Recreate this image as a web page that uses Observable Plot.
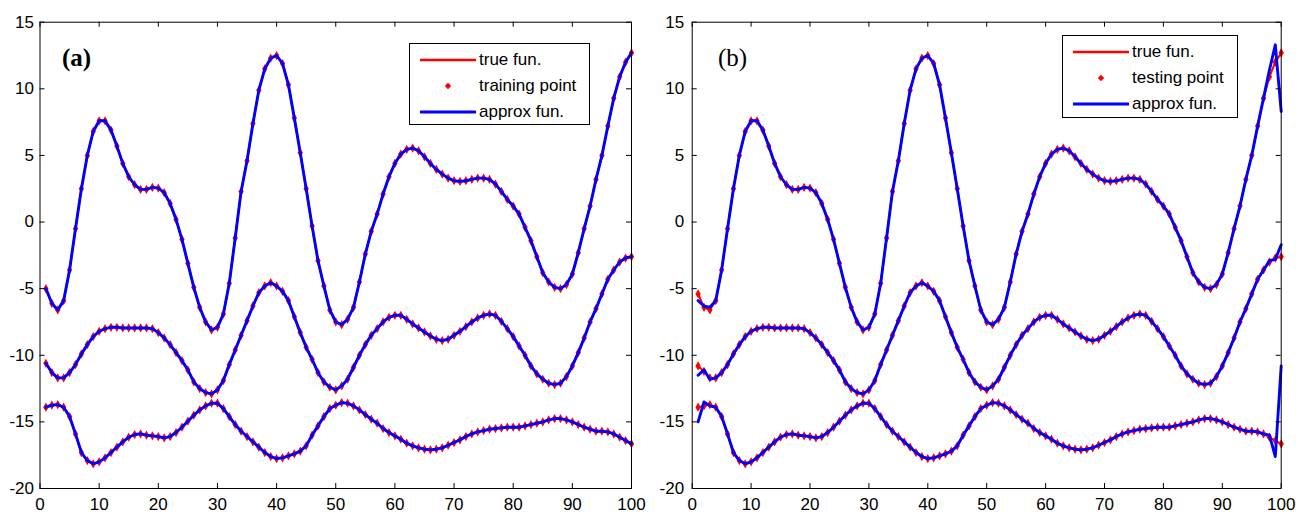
<!DOCTYPE html>
<html>
<head>
<meta charset="utf-8">
<script src="https://cdn.jsdelivr.net/npm/d3@7"></script>
<script src="https://cdn.jsdelivr.net/npm/@observablehq/plot@0.6"></script>
<style>
  html, body { margin: 0; padding: 0; background: #fff; }
  #wrap { position: relative; width: 1296px; height: 514px; overflow: hidden; font-family: Arial, "Liberation Sans", sans-serif; }
  .panel { position: absolute; top: 0; }
  .tag { position: absolute; font-family: "Liberation Serif", "Times New Roman", serif; font-size: 25px; line-height: 1; color: #000; }
  .legend { position: absolute; border: 1px solid #000; background: #fff; box-sizing: border-box; }
  .row { position: absolute; left: 0; height: 20px; width: 100%; }
  .row svg { position: absolute; left: 0; top: 0; }
  .row span { position: absolute; left: 69px; top: 0; font-size: 17px; line-height: 20px; color: #000; white-space: nowrap; }
</style>
</head>
<body>
<div id="wrap"></div>
<script>
// ---------- data ----------
const xIndex = d3.range(1, 101); // sample positions 1..100

const curveTop = [
  -5.0, -6.1, -6.6, -5.9, -3.6, -0.5, 2.5, 5.0, 6.8, 7.6,
  7.6, 6.9, 5.7, 4.4, 3.4, 2.8, 2.45, 2.45, 2.6, 2.55,
  2.2, 1.4, 0.2, -1.3, -3.1, -4.9, -6.4, -7.5, -8.1, -7.9,
  -6.9, -4.6, -1.2, 2.3, 4.6, 7.4, 9.9, 11.5, 12.3, 12.5,
  11.9, 10.3, 7.8, 5.2, 2.5, -0.3, -2.9, -4.8, -6.6, -7.5,
  -7.7, -7.3, -6.4, -4.5, -2.4, -0.7, 0.6, 2.1, 3.4, 4.4,
  5.1, 5.45, 5.55, 5.35, 4.9, 4.4, 3.95, 3.6, 3.3, 3.1,
  3.05, 3.1, 3.2, 3.3, 3.3, 3.2, 2.85, 2.3, 1.7, 1.2,
  0.6, -0.4, -1.4, -2.6, -3.8, -4.5, -4.9, -5.0, -4.7, -3.9,
  -2.3, -0.5, 1.2, 3.2, 5.0, 7.2, 9.3, 10.9, 12.0, 12.7
];
const curveMid = [
  -10.6, -11.3, -11.7, -11.7, -11.3, -10.7, -9.9, -9.2, -8.6, -8.2,
  -8.0, -7.9, -7.9, -7.95, -7.95, -7.95, -7.95, -7.95, -8.0, -8.3,
  -8.7, -9.2, -9.8, -10.4, -11.1, -12.0, -12.5, -12.8, -12.9, -12.6,
  -11.9, -10.7, -9.6, -8.5, -7.4, -6.3, -5.3, -4.8, -4.55, -4.8,
  -5.2, -5.9, -7.1, -8.3, -9.4, -10.3, -11.3, -12.0, -12.4, -12.6,
  -12.3, -11.8, -10.9, -10.0, -9.2, -8.5, -8.0, -7.5, -7.15, -7.0,
  -7.0, -7.3, -7.65, -7.95, -8.25, -8.55, -8.8, -8.9, -8.8, -8.5,
  -8.2, -7.85, -7.5, -7.2, -7.0, -6.9, -7.0, -7.45, -8.0, -8.6,
  -9.3, -10.0, -10.8, -11.4, -11.8, -12.1, -12.2, -12.1, -11.6, -10.8,
  -9.8, -8.7, -7.5, -6.5, -5.4, -4.3, -3.6, -3.0, -2.7, -2.6
];
const curveLow = [
  -13.9, -13.75, -13.7, -13.9, -14.6, -15.9, -17.3, -17.9, -18.15, -18.0,
  -17.7, -17.3, -16.9, -16.5, -16.15, -15.95, -15.9, -16.0, -16.05, -16.1,
  -16.2, -16.1, -15.8, -15.4, -14.95, -14.5, -14.1, -13.8, -13.6, -13.6,
  -14.0, -14.6, -15.2, -15.7, -16.1, -16.5, -16.9, -17.3, -17.6, -17.75,
  -17.7, -17.55, -17.4, -17.2, -16.8, -16.0, -15.3, -14.6, -14.0, -13.75,
  -13.55, -13.6, -13.8, -14.1, -14.45, -14.8, -15.1, -15.5, -15.8, -16.05,
  -16.3, -16.6, -16.8, -16.95, -17.05, -17.1, -17.05, -16.95, -16.75, -16.55,
  -16.35, -16.1, -15.9, -15.75, -15.65, -15.55, -15.5, -15.45, -15.4, -15.4,
  -15.4, -15.3, -15.2, -15.1, -15.0, -14.85, -14.75, -14.75, -14.85, -15.0,
  -15.2, -15.4, -15.55, -15.7, -15.7, -15.75, -15.9, -16.15, -16.4, -16.65
];

// panel (b): approximation deviates near both ends
const edgeX = [1, 2, 3, 98, 99, 100];
const approxBTopEdge = [-5.9, -6.3, -6.4, 11.4, 13.3, 8.3];
const approxBMidEdge = [-11.5, -11.1, -11.8, -2.9, -2.8, -1.7];
const approxBLowEdge = [-15.0, -13.5, -13.8, -16.0, -17.6, -10.8];
// panel (b): first testing points of each curve (x = 1, 2)
const testStartTop = [-5.4, -6.4];
const testStartMid = [-10.8, -11.2];
const testStartLow = [-13.9, -13.8];

const xTicks = [0, 10, 20, 30, 40, 50, 60, 70, 80, 90, 100];
const yTicks = [-20, -15, -10, -5, 0, 5, 10, 15];

const curves = [curveTop, curveMid, curveLow];
const edgesB = [approxBTopEdge, approxBMidEdge, approxBLowEdge];
const testStarts = [testStartTop, testStartMid, testStartLow];

// ---------- tables ----------
function rowsOf(list) {
  const out = [];
  list.forEach((vals, k) => vals.forEach((v, i) => out.push({x: xIndex[i], y: v, curve: k})));
  return out;
}
const trueRows = rowsOf(curves);
const approxBvals = curves.map((vals, k) => vals.map((v, i) => {
  const j = edgeX.indexOf(xIndex[i]);
  return j >= 0 ? edgesB[k][j] : v;
}));
const approxB = rowsOf(approxBvals);
const testVals = curves.map((vals, k) => vals.map((v, i) => i < testStarts[k].length ? testStarts[k][i] : v));
const testRows = rowsOf(testVals);

// ---------- drawing ----------
const W = 648, H = 514, MT = 21.7, MB = 26;
function panel({ml, mr, truth, approx, points, padY}) {
  const plotH = H - MT - MB, plotW = W - ml - mr;
  return Plot.plot({
    width: W, height: H,
    marginTop: MT, marginBottom: MB, marginLeft: ml, marginRight: mr,
    x: {domain: [0, 100]},
    y: {domain: [-20, 15]},
    style: {fontFamily: "Arial, 'Liberation Sans', sans-serif", fontSize: "17px", color: "#000", background: "transparent", overflow: "visible"},
    marks: [
      Plot.line(truth, {x: "x", y: "y", z: "curve", stroke: "red", strokeWidth: 2}),
      Plot.dot(points, {x: "x", y: "y", symbol: "diamond", r: 2.8, fill: "red", stroke: "none"}),
      Plot.line(approx, {x: "x", y: "y", z: "curve", stroke: "blue", strokeWidth: 2.9}),
      Plot.tickX(xTicks, {x: d => d, stroke: "#000", insetTop: plotH - 5}),
      Plot.tickX(xTicks, {x: d => d, stroke: "#000", insetBottom: plotH - 5}),
      Plot.tickY(yTicks, {y: d => d, stroke: "#000", insetRight: plotW - 5}),
      Plot.tickY(yTicks, {y: d => d, stroke: "#000", insetLeft: plotW - 5}),
      Plot.axisX({ticks: xTicks, tickSize: 0, tickPadding: 9, tickFormat: d => String(d), label: null}),
      Plot.axisY({ticks: yTicks, tickSize: 0, tickPadding: padY, tickFormat: d => String(d), label: null}),
      Plot.frame({stroke: "#000", strokeWidth: 1})
    ]
  });
}

const wrap = document.getElementById("wrap");
const pa = panel({ml: 39.5, mr: 17, truth: trueRows, approx: trueRows, points: trueRows, padY: 6});
pa.classList.add("panel"); pa.style.left = "0px";
wrap.appendChild(pa);
const pb = panel({ml: 43.7, mr: 15.3, truth: testRows, approx: approxB, points: testRows, padY: 8});
pb.classList.add("panel"); pb.style.left = "648px";
wrap.appendChild(pb);

// panel tags
function tag(text, left, top, bold) {
  const d = document.createElement("div");
  d.className = "tag"; d.textContent = text;
  d.style.left = left + "px"; d.style.top = top + "px";
  d.style.fontWeight = bold ? "bold" : "normal";
  wrap.appendChild(d);
}
tag("(a)", 62, 45, true);
tag("(b)", 718, 45, false);

// legends
const legendLabelsA = ["true fun.", "training point", "approx fun."];
const legendLabelsB = ["true fun.", "testing point", "approx fun."];
function legend(labels, left, top, width, height) {
  const box = document.createElement("div");
  box.className = "legend";
  Object.assign(box.style, {left: left + "px", top: top + "px", width: width + "px", height: height + "px"});
  const kinds = ["redline", "dot", "blueline"];
  labels.forEach((lab, i) => {
    const r = document.createElement("div");
    r.className = "row";
    r.style.top = (6 + i * 26) + "px";
    let sample;
    if (kinds[i] === "redline") sample = '<line x1="10" x2="66" y1="10" y2="10" stroke="red" stroke-width="2.5"/>';
    else if (kinds[i] === "dot") sample = '<path d="M38,6.8L41.2,10L38,13.2L34.8,10Z" fill="red"/>';
    else sample = '<line x1="10" x2="66" y1="10" y2="10" stroke="blue" stroke-width="3"/>';
    r.innerHTML = '<svg width="70" height="20">' + sample + '</svg><span>' + lab + '</span>';
    box.appendChild(r);
  });
  wrap.appendChild(box);
}
legend(legendLabelsA, 409, 43, 181, 82);
legend(legendLabelsB, 1062, 35, 176, 83);
</script>
</body>
</html>
